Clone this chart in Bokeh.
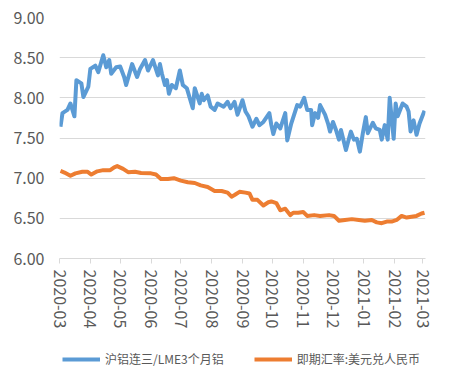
import math
import pandas as pd
from bokeh.plotting import figure
from bokeh.layouts import column
from bokeh.models import (ColumnDataSource, Range1d, MonthsTicker, DatetimeTickFormatter,
                          Legend, LegendItem, FixedTicker, NumeralTickFormatter)
from bokeh.embed import file_html
from bokeh.resources import INLINE

# ---- data ----
al_dates = [
    "2020-03-02", "2020-03-04", "2020-03-09", "2020-03-12", "2020-03-16", "2020-03-18",
    "2020-03-23", "2020-03-25", "2020-03-30", "2020-04-01", "2020-04-06", "2020-04-09",
    "2020-04-14", "2020-04-17", "2020-04-20", "2020-04-22", "2020-04-27", "2020-05-01",
    "2020-05-05", "2020-05-07", "2020-05-13", "2020-05-18", "2020-05-21", "2020-05-26",
    "2020-05-29", "2020-06-03", "2020-06-08", "2020-06-10", "2020-06-12", "2020-06-15",
    "2020-06-17", "2020-06-19", "2020-06-22", "2020-06-26", "2020-06-30", "2020-07-03",
    "2020-07-07", "2020-07-13", "2020-07-15", "2020-07-20", "2020-07-22", "2020-07-24",
    "2020-07-28", "2020-07-31", "2020-08-04", "2020-08-07", "2020-08-13", "2020-08-17",
    "2020-08-20", "2020-08-24", "2020-08-27", "2020-09-01", "2020-09-04", "2020-09-07",
    "2020-09-11", "2020-09-15", "2020-09-18", "2020-09-22", "2020-09-28", "2020-09-30",
    "2020-10-02", "2020-10-05", "2020-10-09", "2020-10-14", "2020-10-16", "2020-10-20",
    "2020-10-26", "2020-10-29", "2020-11-02", "2020-11-05", "2020-11-09", "2020-11-10",
    "2020-11-13", "2020-11-16", "2020-11-18", "2020-11-23", "2020-11-26", "2020-11-28",
    "2020-12-01", "2020-12-04", "2020-12-07", "2020-12-09", "2020-12-14", "2020-12-17",
    "2020-12-19", "2020-12-22", "2020-12-25", "2020-12-28", "2020-12-31", "2021-01-03",
    "2021-01-05", "2021-01-10", "2021-01-13", "2021-01-17", "2021-01-19", "2021-01-22",
    "2021-01-25", "2021-01-27", "2021-01-31", "2021-02-02", "2021-02-04", "2021-02-09",
    "2021-02-13", "2021-02-15", "2021-02-17", "2021-02-20", "2021-02-23", "2021-02-26",
    "2021-03-03",
]
al_ratio = [
    7.64, 7.81, 7.85, 7.93, 7.77, 8.22,
    8.18, 8.01, 8.14, 8.36, 8.40, 8.32,
    8.53, 8.38, 8.47, 8.30, 8.38, 8.39,
    8.26, 8.16, 8.42, 8.26, 8.36, 8.47,
    8.34, 8.47, 8.28, 8.42, 8.30, 8.16,
    8.22, 8.05, 8.16, 8.12, 8.34, 8.16,
    8.12, 7.87, 8.12, 7.93, 8.05, 7.97,
    8.03, 7.89, 7.85, 7.93, 7.89, 7.95,
    7.87, 7.95, 7.79, 7.97, 7.83, 7.77,
    7.64, 7.74, 7.66, 7.70, 7.81, 7.66,
    7.55, 7.68, 7.62, 7.81, 7.47, 7.68,
    7.91, 7.89, 8.00, 7.85, 7.85, 7.66,
    7.81, 7.75, 7.91, 7.79, 7.68, 7.58,
    7.70, 7.60, 7.48, 7.60, 7.35, 7.49,
    7.58, 7.48, 7.49, 7.33, 7.56, 7.76,
    7.56, 7.69, 7.62, 7.60, 7.48, 7.66,
    7.48, 8.00, 7.49, 7.93, 7.77, 7.93,
    7.89, 7.83, 7.58, 7.72, 7.54, 7.68,
    7.84,
]

fx_dates = [
    "2020-03-02", "2020-03-06", "2020-03-12", "2020-03-17", "2020-03-24", "2020-03-29",
    "2020-04-02", "2020-04-08", "2020-04-14", "2020-04-21", "2020-04-25", "2020-04-28",
    "2020-05-04", "2020-05-09", "2020-05-16", "2020-05-22", "2020-06-01", "2020-06-06",
    "2020-06-11", "2020-06-18", "2020-06-24", "2020-07-01", "2020-07-08", "2020-07-15",
    "2020-07-21", "2020-07-28", "2020-08-04", "2020-08-11", "2020-08-17", "2020-08-21",
    "2020-08-24", "2020-08-29", "2020-09-04", "2020-09-08", "2020-09-11", "2020-09-16",
    "2020-09-22", "2020-09-27", "2020-09-30", "2020-10-05", "2020-10-09", "2020-10-14",
    "2020-10-19", "2020-10-22", "2020-10-27", "2020-11-01", "2020-11-05", "2020-11-12",
    "2020-11-18", "2020-11-27", "2020-12-02", "2020-12-07", "2020-12-13", "2020-12-20",
    "2020-12-27", "2021-01-02", "2021-01-09", "2021-01-14", "2021-01-19", "2021-01-24",
    "2021-01-29", "2021-02-03", "2021-02-08", "2021-02-13", "2021-02-18", "2021-02-23",
    "2021-02-28", "2021-03-03",
]
usd_cny = [
    7.09, 7.07, 7.03, 7.06, 7.08, 7.08,
    7.045, 7.085, 7.10, 7.10, 7.135, 7.15,
    7.115, 7.075, 7.08, 7.065, 7.06, 7.045,
    6.99, 6.99, 7.00, 6.97, 6.95, 6.94,
    6.91, 6.89, 6.84, 6.84, 6.82, 6.77,
    6.79, 6.83, 6.82, 6.81, 6.73, 6.73,
    6.66, 6.70, 6.71, 6.69, 6.60, 6.62,
    6.54, 6.57, 6.57, 6.58, 6.53, 6.54,
    6.53, 6.54, 6.53, 6.47, 6.48, 6.49,
    6.48, 6.47, 6.48, 6.45, 6.44, 6.46,
    6.46, 6.48, 6.53, 6.51, 6.52, 6.53,
    6.56, 6.57,
]

series_names = ["沪铝连三/LME3个月铝", "即期汇率:美元兑人民币"]
y_ticks = [6.0, 6.5, 7.0, 7.5, 8.0, 8.5, 9.0]

BLUE = "#5B9BD5"
ORANGE = "#ED7D31"
GRID = "#D9D9D9"
TXT = "#595959"
FONT = "Noto Sans CJK SC"

src_al = ColumnDataSource(dict(x=pd.to_datetime(al_dates), y=al_ratio))
src_fx = ColumnDataSource(dict(x=pd.to_datetime(fx_dates), y=usd_cny))

p = figure(width=452, height=345, output_backend="svg", toolbar_location=None,
           x_axis_type="datetime",
           x_range=Range1d(pd.Timestamp("2020-03-01"), pd.Timestamp("2021-03-04")),
           y_range=Range1d(6.0, 9.0),
           min_border_left=59, min_border_right=27, min_border_top=17, min_border_bottom=87)
p.outline_line_color = None
p.background_fill_color = "white"
p.border_fill_color = "white"

r1 = p.line("x", "y", source=src_al, line_color=BLUE, line_width=4, line_join="round")
r2 = p.line("x", "y", source=src_fx, line_color=ORANGE, line_width=4, line_join="round")

# y axis
p.yaxis.ticker = FixedTicker(ticks=y_ticks)
p.yaxis.formatter = NumeralTickFormatter(format="0.00")
p.yaxis.axis_line_color = None
p.yaxis.major_tick_line_color = None
p.yaxis.minor_tick_line_color = None
p.yaxis.major_tick_out = 0
p.yaxis.major_label_standoff = 15
p.yaxis.major_label_text_font = FONT
p.yaxis.major_label_text_font_size = "16px"
p.yaxis.major_label_text_color = TXT

# x axis
p.xaxis.ticker = MonthsTicker(months=list(range(1, 13)))
p.xaxis.formatter = DatetimeTickFormatter(months="%Y-%m", days="%Y-%m")
p.xaxis.axis_line_color = GRID
p.xaxis.major_tick_line_color = GRID
p.xaxis.minor_tick_line_color = None
p.xaxis.major_tick_in = 0
p.xaxis.major_tick_out = 5
p.xaxis.major_label_orientation = -math.pi / 2
p.xaxis.major_label_standoff = 6
p.xaxis.major_label_text_font = FONT
p.xaxis.major_label_text_font_size = "16px"
p.xaxis.major_label_text_color = TXT

p.xgrid.grid_line_color = None
p.ygrid.grid_line_color = GRID
p.ygrid.grid_line_width = 1

# legend strip below the chart (same series, drawn outside its visible range)
pl = figure(width=452, height=34, output_backend="svg", toolbar_location=None,
            x_axis_type="datetime",
            x_range=Range1d(pd.Timestamp("2020-03-01"), pd.Timestamp("2021-03-04")),
            y_range=Range1d(0, 1),
            min_border_left=59, min_border_right=27, min_border_top=0, min_border_bottom=0)
pl.axis.visible = False
pl.grid.visible = False
pl.outline_line_color = None
l1 = pl.line("x", "y", source=src_al, line_color=BLUE, line_width=4)
l2 = pl.line("x", "y", source=src_fx, line_color=ORANGE, line_width=4)
legend = Legend(items=[LegendItem(label=series_names[0], renderers=[l1]),
                       LegendItem(label=series_names[1], renderers=[l2])],
                orientation="horizontal", location=(3, 12),
                label_text_font=FONT, label_text_font_size="12px", label_text_color=TXT,
                glyph_width=38, glyph_height=16, label_standoff=5, spacing=30,
                padding=5, margin=0, border_line_color=None, background_fill_alpha=0)
pl.add_layout(legend, "center")

layout = column(p, pl, spacing=0)
open("out.html", "w").write(file_html(layout, INLINE))
